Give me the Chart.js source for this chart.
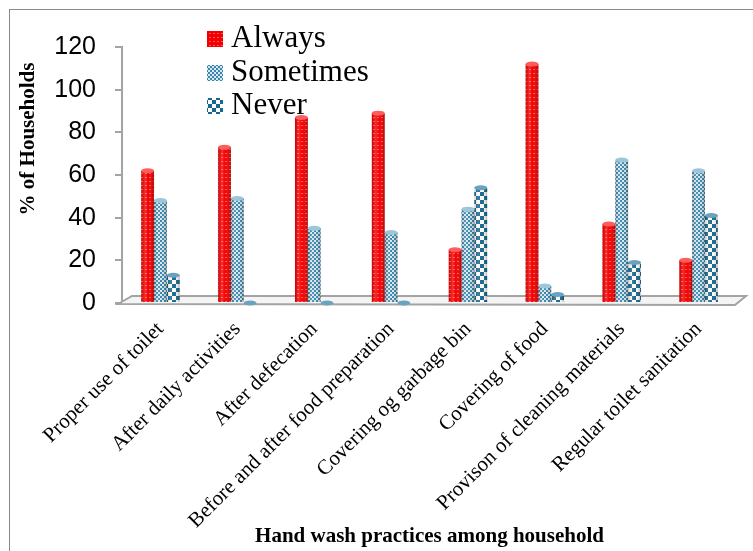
<!DOCTYPE html>
<html>
<head>
<meta charset="utf-8">
<script src="https://cdn.jsdelivr.net/npm/chart.js@4/dist/chart.umd.min.js"></script>
<style>
  html, body { margin: 0; padding: 0; background: #ffffff; }
  #wrap { width: 753px; height: 551px; position: relative; }
</style>
</head>
<body>
<div id="wrap"><canvas id="chart" width="753" height="551"></canvas></div>
<script>
// Hand wash practices survey: % of households per practice
const categories = [
  'Proper use of toilet',
  'After daily activities',
  'After defecation',
  'Before and after food preparation',
  'Covering og garbage bin',
  'Covering of food',
  'Provison of cleaning materials',
  'Regular toilet sanitation'
];
const seriesNames = ['Always', 'Sometimes', 'Never'];
const always    = [62, 73, 87, 89, 25, 112, 37, 20];
const sometimes = [48, 49, 35, 33, 44, 8, 67, 62];
const never     = [13, 0, 0, 0, 54, 4, 19, 41];
const yTicks = [0, 20, 40, 60, 80, 100, 120];
const yTitle = '% of Households';
const xTitle = 'Hand wash practices among household';

// Textured fills for the cylinders
function makePattern(size, draw) {
  const c = document.createElement('canvas');
  c.width = size; c.height = size;
  const g = c.getContext('2d');
  draw(g);
  return g.createPattern(c, 'repeat');
}
const ctx0 = document.getElementById('chart').getContext('2d');
const redFill = makePattern(4, g => {
  g.fillStyle = '#f50000'; g.fillRect(0, 0, 4, 4);
  g.fillStyle = '#ff5a5a'; g.fillRect(1, 1, 2, 1);
});
const lightFill = makePattern(4, g => {
  g.fillStyle = '#d7e8f0'; g.fillRect(0, 0, 4, 4);
  g.fillStyle = '#3a85aa'; g.fillRect(0, 0, 2, 2); g.fillRect(2, 2, 2, 2);
});
const darkFill = makePattern(8, g => {
  g.fillStyle = '#ffffff'; g.fillRect(0, 0, 8, 8);
  g.fillStyle = '#17688f'; g.fillRect(0, 0, 4, 4); g.fillRect(4, 4, 4, 4);
});
const capColors = ['#ff5c5c', '#9cc6da', '#6aa2c0'];

const SERIF = '"Liberation Serif", "Times New Roman", serif';
const SANS = '"Liberation Sans", Arial, sans-serif';

// Frame, 3-D floor and y-axis title
const decorPlugin = {
  id: 'decor',
  beforeDatasetsDraw(chart) {
    const { ctx, chartArea: a } = chart;
    ctx.save();
    ctx.beginPath();
    ctx.moveTo(a.left - 4, a.bottom + 1);
    ctx.lineTo(a.left + 10, a.bottom - 7);
    ctx.lineTo(a.right + 9, a.bottom - 7);
    ctx.lineTo(a.right - 2, a.bottom + 2);
    ctx.closePath();
    ctx.fillStyle = '#f4f4f4';
    ctx.fill();
    ctx.strokeStyle = '#a3a3a3';
    ctx.lineWidth = 2;
    ctx.stroke();
    ctx.restore();
  },
  afterDraw(chart) {
    const { ctx } = chart;
    ctx.save();
    ctx.strokeStyle = '#8a8a8a';
    ctx.lineWidth = 1;
    ctx.strokeRect(9.5, 9.5, 900, 700);
    ctx.translate(29, 139);
    ctx.rotate(-Math.PI / 2);
    ctx.font = 'bold 21px ' + SERIF;
    ctx.fillStyle = '#000000';
    ctx.textAlign = 'center';
    ctx.textBaseline = 'middle';
    ctx.fillText(yTitle, 0, 0);
    ctx.restore();
  }
};

// Cylinder shading and elliptical caps on each bar
const cylinderPlugin = {
  id: 'cylinder',
  afterDatasetsDraw(chart) {
    const { ctx } = chart;
    chart.data.datasets.forEach((ds, di) => {
      const meta = chart.getDatasetMeta(di);
      meta.data.forEach(bar => {
        const w = bar.width, l = bar.x - w / 2;
        const top = Math.min(bar.y, bar.base), h = Math.abs(bar.base - bar.y);
        ctx.save();
        if (h > 0) {
          const gr = ctx.createLinearGradient(l, 0, l + w, 0);
          gr.addColorStop(0, 'rgba(0,0,0,0.18)');
          gr.addColorStop(0.3, 'rgba(255,255,255,0.18)');
          gr.addColorStop(0.55, 'rgba(255,255,255,0)');
          gr.addColorStop(1, 'rgba(0,0,0,0.28)');
          ctx.fillStyle = gr;
          ctx.fillRect(l, top, w, h);
        }
        ctx.beginPath();
        ctx.ellipse(bar.x, bar.y, w / 2, 2.5, 0, 0, Math.PI * 2);
        ctx.fillStyle = capColors[di];
        ctx.fill();
        ctx.restore();
      });
    });
  }
};

// Legend stacked at the top of the plot
const legendPlugin = {
  id: 'stackLegend',
  afterDraw(chart) {
    const { ctx } = chart;
    ctx.save();
    ctx.font = '31px ' + SERIF;
    ctx.textBaseline = 'alphabetic';
    ctx.textAlign = 'left';
    const rows = [47, 81, 114];
    chart.data.datasets.forEach((ds, i) => {
      const b = rows[i];
      ctx.fillStyle = ds.backgroundColor;
      ctx.fillRect(207, b - 16, 16, 16);
      ctx.fillStyle = '#000000';
      ctx.fillText(ds.label, 231, b);
    });
    ctx.restore();
  }
};

new Chart(ctx0, {
  type: 'bar',
  data: {
    labels: categories,
    datasets: [
      { label: seriesNames[0], data: always, backgroundColor: redFill },
      { label: seriesNames[1], data: sometimes, backgroundColor: lightFill },
      { label: seriesNames[2], data: never, backgroundColor: darkFill }
    ]
  },
  options: {
    responsive: false,
    animation: false,
    devicePixelRatio: 1,
    layout: { padding: { top: 47, right: 16, left: 0, bottom: 0 } },
    datasets: { bar: { categoryPercentage: 0.5, barPercentage: 1.0, borderWidth: 0 } },
    plugins: { legend: { display: false }, tooltip: { enabled: false } },
    scales: {
      x: {
        grid: { display: false },
        border: { display: false },
        ticks: {
          minRotation: 45, maxRotation: 45, padding: 6,
          color: '#000000', font: { family: SERIF, size: 21 }
        },
        title: {
          display: true, text: xTitle, color: '#000000',
          font: { family: SERIF, size: 21, weight: 'bold' },
          padding: { top: 0, bottom: 2 }
        },
        afterFit(scale) { scale.height = 248; }
      },
      y: {
        min: 0, max: 120,
        afterBuildTicks(scale) { scale.ticks = yTicks.map(v => ({ value: v })); },
        grid: { display: true, drawOnChartArea: false, drawTicks: true, tickLength: 7, color: '#a3a3a3', lineWidth: 2 },
        border: { display: true, color: '#a3a3a3', width: 2 },
        ticks: { padding: 19, color: '#000000', font: { family: SANS, size: 25 } },
        afterFit(scale) { scale.width = 122; }
      }
    }
  },
  plugins: [decorPlugin, cylinderPlugin, legendPlugin]
});
</script>
</body>
</html>
